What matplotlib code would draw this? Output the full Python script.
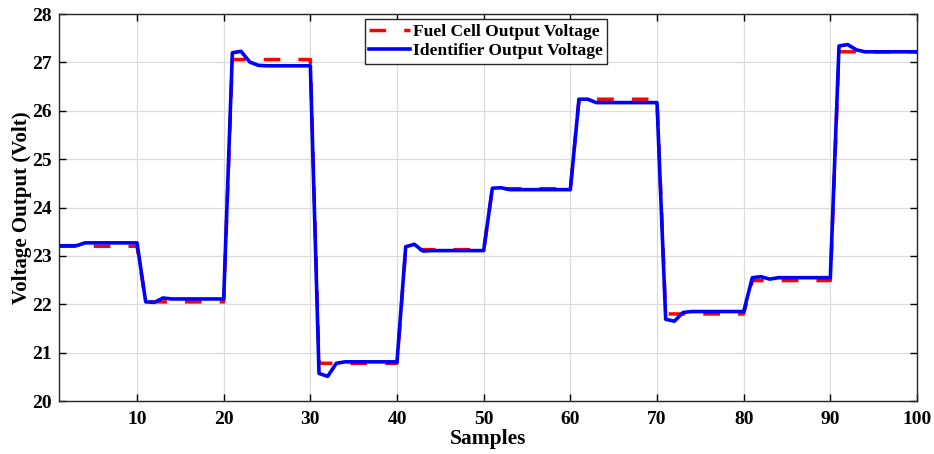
import matplotlib
matplotlib.use("Agg")
import matplotlib.pyplot as plt
import numpy as np

plt.rcParams['font.family'] = ['Liberation Serif', 'DejaVu Serif']
plt.rcParams['font.weight'] = 'bold'

samples = np.arange(1, 101)

# Fuel cell output: constant level held over each block of 10 samples
fuel_levels = [23.20, 22.05, 27.06, 20.78, 23.13, 24.39, 26.24, 21.80, 22.49, 27.22]
fuel_cell = np.repeat(fuel_levels, 10)

# Identifier output, read sample by sample
identifier = [
    23.21, 23.21, 23.21, 23.27, 23.27, 23.27, 23.27, 23.27, 23.27, 23.27,
    22.05, 22.04, 22.13, 22.11, 22.11, 22.11, 22.11, 22.11, 22.11, 22.11,
    27.20, 27.23, 27.01, 26.94, 26.93, 26.93, 26.93, 26.93, 26.93, 26.93,
    20.57, 20.51, 20.78, 20.81, 20.81, 20.81, 20.81, 20.81, 20.81, 20.81,
    23.19, 23.24, 23.10, 23.11, 23.11, 23.11, 23.11, 23.11, 23.11, 23.11,
    24.40, 24.41, 24.37, 24.37, 24.37, 24.37, 24.37, 24.37, 24.37, 24.37,
    26.24, 26.24, 26.17, 26.17, 26.17, 26.17, 26.17, 26.17, 26.17, 26.17,
    21.69, 21.65, 21.83, 21.85, 21.85, 21.85, 21.85, 21.85, 21.85, 21.85,
    22.55, 22.57, 22.52, 22.55, 22.55, 22.55, 22.55, 22.55, 22.55, 22.55,
    27.34, 27.37, 27.26, 27.22, 27.22, 27.22, 27.22, 27.22, 27.22, 27.22,
]

fig = plt.figure(figsize=(9.34, 4.54), dpi=100)
ax = fig.add_axes([0.0632, 0.1167, 0.9186, 0.8523])

ax.plot(samples, fuel_cell, color='red', linewidth=2.5, dashes=(4.8, 5.2),
        label='Fuel Cell Output Voltage')
ax.plot(samples, identifier, color='blue', linewidth=2.6,
        label='Identifier Output Voltage')

ax.set_xlim(1, 100)
ax.set_ylim(20, 28)
ax.set_xticks(np.arange(10, 101, 10))
ax.set_yticks(np.arange(20, 29, 1))
ax.grid(True, color='#dcdcdc', linewidth=0.9)
ax.tick_params(direction='in', top=True, right=True, labelsize=14, length=5,
               width=1)
ax.tick_params(axis='x', pad=7)
ax.tick_params(axis='y', pad=5)
for lbl in ax.get_xticklabels() + ax.get_yticklabels():
    lbl.set_fontweight('bold')
for sp in ax.spines.values():
    sp.set_linewidth(1)
    sp.set_color('#262626')

ax.set_xlabel('Samples', fontsize=15.5, fontweight='bold', labelpad=1)
ax.set_ylabel('Voltage Output (Volt)', fontsize=15, fontweight='bold', labelpad=0.5)

leg = ax.legend(loc='upper center', bbox_to_anchor=(0.498, 0.987),
                prop={'weight': 'bold', 'size': 12.6}, fancybox=False,
                framealpha=1, edgecolor='#262626', borderpad=0.25,
                labelspacing=0.2, handlelength=2.3, handletextpad=0.2,
                borderaxespad=0)
leg.get_frame().set_linewidth(1)

fig.savefig('out.png', dpi=100)
